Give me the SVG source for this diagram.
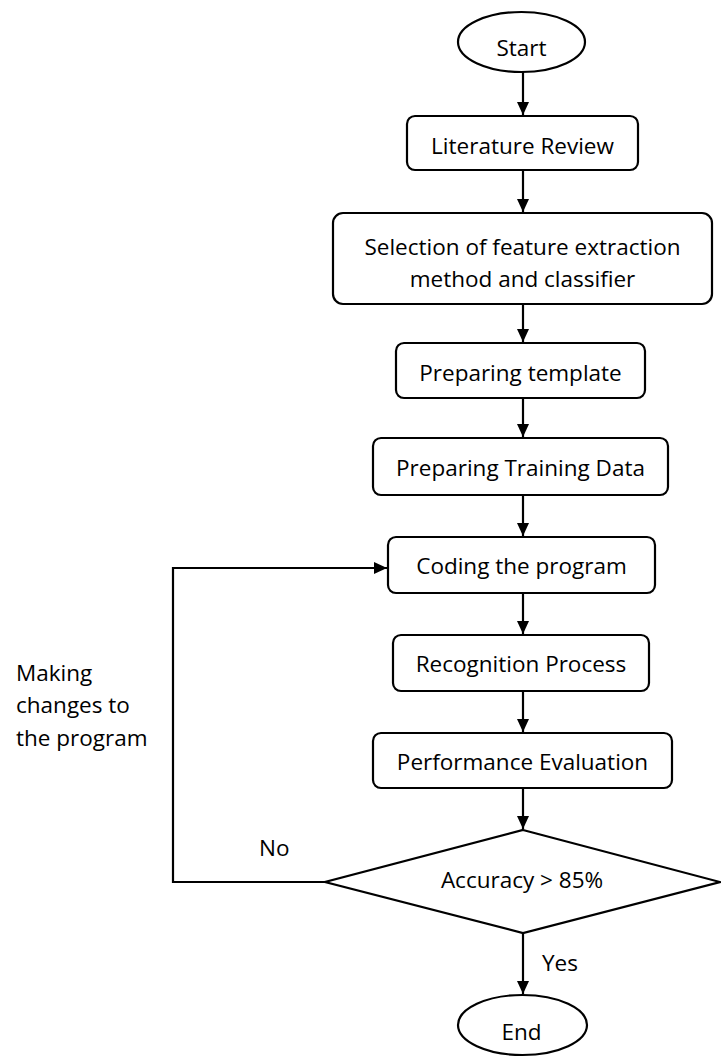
<svg xmlns="http://www.w3.org/2000/svg" width="721" height="1059" viewBox="0 0 721 1059">
<style>
.shape{fill:#fff;stroke:#000;stroke-width:2.2}
.t{font-family:"Open Sans","Liberation Sans",sans-serif;font-size:22.5px;fill:#000;text-anchor:middle}
.l{font-family:"Open Sans","Liberation Sans",sans-serif;font-size:22.5px;fill:#000}
.c{fill:none;stroke:#000;stroke-width:2.2}
</style>
<defs>
<marker id="ah" markerUnits="userSpaceOnUse" markerWidth="14" markerHeight="12" refX="13" refY="6" orient="auto">
<path d="M0,0 L13,6 L0,12 z" fill="#000"/>
</marker>
</defs>
<rect width="721" height="1059" fill="#fff"/>
<g id="connectors">
<line class="c" x1="523" y1="72" x2="523" y2="115" marker-end="url(#ah)"/>
<line class="c" x1="523" y1="170" x2="523" y2="212" marker-end="url(#ah)"/>
<line class="c" x1="523" y1="304" x2="523" y2="342" marker-end="url(#ah)"/>
<line class="c" x1="523" y1="398" x2="523" y2="437" marker-end="url(#ah)"/>
<line class="c" x1="523" y1="495" x2="523" y2="536" marker-end="url(#ah)"/>
<line class="c" x1="523" y1="593" x2="523" y2="634" marker-end="url(#ah)"/>
<line class="c" x1="523" y1="691" x2="523" y2="732" marker-end="url(#ah)"/>
<line class="c" x1="523" y1="788" x2="523" y2="829" marker-end="url(#ah)"/>
<line class="c" x1="523" y1="933" x2="523" y2="994" marker-end="url(#ah)"/>
<polyline class="c" points="325,882 173,882 173,568 387,568" marker-end="url(#ah)"/>
</g>
<g id="start"><ellipse class="shape" cx="521.5" cy="42" rx="63.5" ry="30"/><text class="t" x="521.5" y="56">Start</text></g>
<g id="literature"><rect class="shape" x="407" y="116" width="231" height="54" rx="8"/><text class="t" x="522.5" y="154">Literature Review</text></g>
<g id="selection"><rect class="shape" x="333" y="213" width="379" height="91" rx="10"/><text class="t" x="522.5" y="255">Selection of feature extraction</text><text class="t" x="522.5" y="287">method and classifier</text></g>
<g id="template"><rect class="shape" x="396" y="343" width="249" height="55" rx="8"/><text class="t" x="520.5" y="381">Preparing template</text></g>
<g id="training"><rect class="shape" x="373" y="438" width="295" height="57" rx="8"/><text class="t" x="520.5" y="476">Preparing Training Data</text></g>
<g id="coding"><rect class="shape" x="388" y="537" width="267" height="56" rx="8"/><text class="t" x="521.5" y="574">Coding the program</text></g>
<g id="recognition"><rect class="shape" x="393" y="635" width="256" height="56" rx="8"/><text class="t" x="521" y="672">Recognition Process</text></g>
<g id="performance"><rect class="shape" x="373" y="733" width="299" height="55" rx="8"/><text class="t" x="522.5" y="770">Performance Evaluation</text></g>
<g id="decision"><polygon class="shape" points="523,830 720,882 523,933 325,882"/><text class="t" x="522" y="888">Accuracy &gt; 85%</text></g>
<g id="end"><ellipse class="shape" cx="522.5" cy="1025" rx="64.5" ry="30"/><text class="t" x="521.5" y="1040">End</text></g>
<g id="labels">
<text class="l" x="259" y="856">No</text>
<text class="l" x="542" y="971">Yes</text>
<text class="l" x="16" y="681">Making</text>
<text class="l" x="16" y="713">changes to</text>
<text class="l" x="16" y="746">the program</text>
</g>
</svg>
